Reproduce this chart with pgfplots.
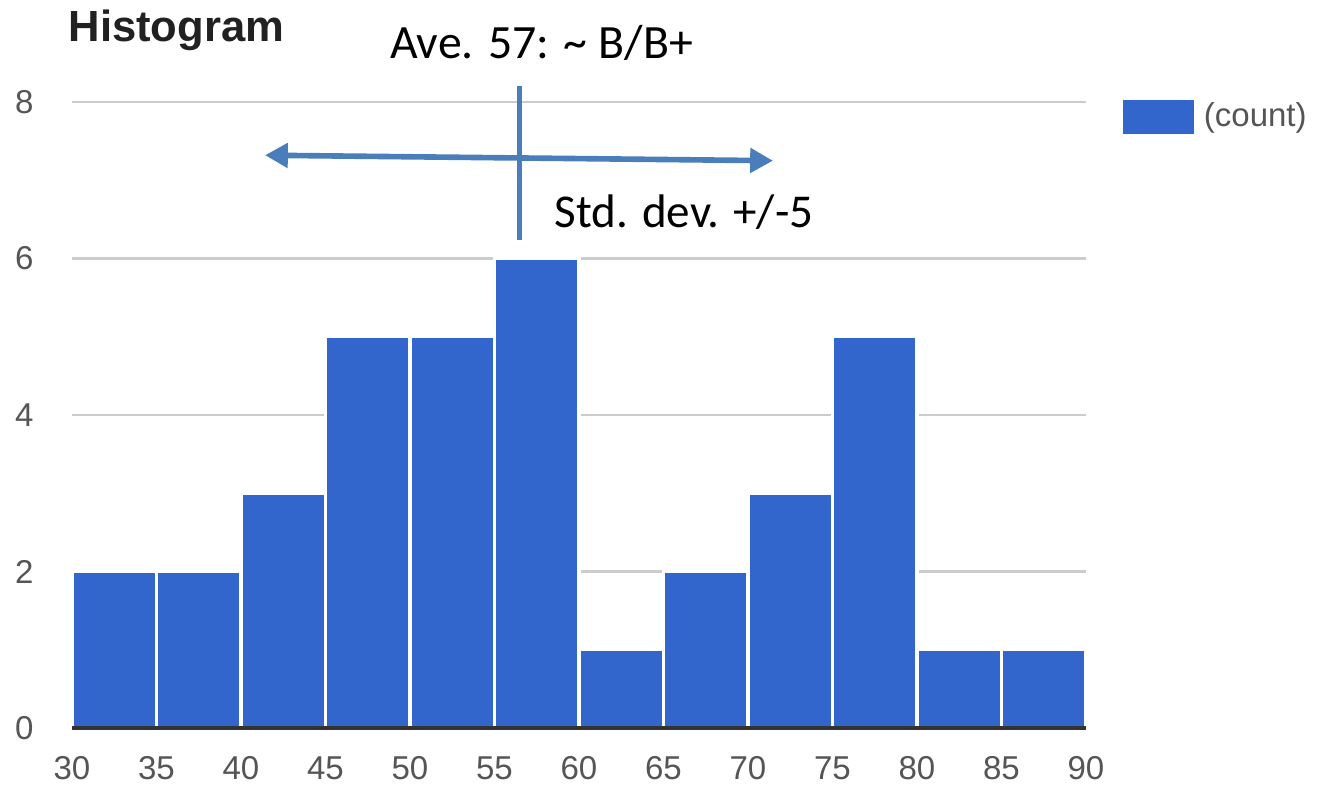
\documentclass[border=0pt]{standalone}
\usepackage{fontspec}
\setmainfont{Liberation Sans}
\newfontfamily\calibri{Carlito}
\usepackage{pgfplots}
\pgfplotsset{compat=1.18}
\usetikzlibrary{arrows.meta}

\definecolor{barblue}{HTML}{3366CC}
\definecolor{gridgray}{HTML}{CCCCCC}
\definecolor{ticktext}{HTML}{555555}
\definecolor{zeroline}{HTML}{333333}
\definecolor{notecolor}{HTML}{4A7EBB}

\begin{document}
\begin{tikzpicture}
\useasboundingbox (0,0) rectangle (131.8mm,78.4mm);
\begin{axis}[
  at={(7.2mm,5.6mm)}, anchor=south west,
  scale only axis,
  width=101.4mm, height=62.6mm,
  xmin=30, xmax=90, ymin=0, ymax=8,
  xtick={30,35,...,90},
  ytick={0,2,4,6,8},
  major tick length=0pt,
  axis line style={draw=none},
  ymajorgrids,
  grid style={gridgray, line width=0.6pt},
  tick label style={font=\fontsize{9.4}{11}\selectfont, text=ticktext},
  /pgf/number format/assume math mode=true,
  xticklabel style={yshift=-1.6mm},
  yticklabel style={xshift=-2.6mm},
  clip=false,
  legend style={at={(1.0355,0.976)}, anchor=west, draw=none, fill=none,
    inner sep=0pt, font=\fontsize{9.4}{11}\selectfont, text=ticktext,
    nodes={inner ysep=0.5mm, inner xsep=1mm}},
  legend image code/.code={\fill[barblue] (-0.9mm,-1.5mm) rectangle (5.9mm,1.5mm);},
]
% histogram bins of width 5
\addplot[ybar interval, fill=barblue, draw=white, line width=0.9pt]
  coordinates {(30,2) (35,2) (40,3) (45,5) (50,5) (55,6) (60,1)
               (65,2) (70,3) (75,5) (80,1) (85,1) (90,1)};
\addlegendentry{(count)}

% baseline
\draw[zeroline, line width=1pt] (axis cs:30,0) -- (axis cs:90,0);

% average marker and spread arrow
\draw[notecolor, line width=1.6pt] (axis cs:56.48,8.2) -- (axis cs:56.48,6.24);
\draw[notecolor, line width=1.6pt,
      {Triangle[length=6.5pt,width=6.8pt]}-{Triangle[length=6.5pt,width=6.8pt]}]
  (axis cs:41.42,7.32) -- (axis cs:71.48,7.25);

\node[anchor=base, inner sep=0pt, font=\calibri\fontsize{13.6}{16}\selectfont]
  at (axis cs:57.78,8.56) {Ave. 57: \textasciitilde{} B/B+};
\node[anchor=base, inner sep=0pt, font=\calibri\fontsize{13.4}{16}\selectfont]
  at (axis cs:66.21,6.39) {Std. dev. +/-5};

\node[anchor=base west, inner sep=0pt, font=\bfseries\fontsize{12.4}{15}\selectfont, text=black!87]
  at (rel axis cs:-0.004,1.097) {Histogram};
\end{axis}
\end{tikzpicture}
\end{document}
